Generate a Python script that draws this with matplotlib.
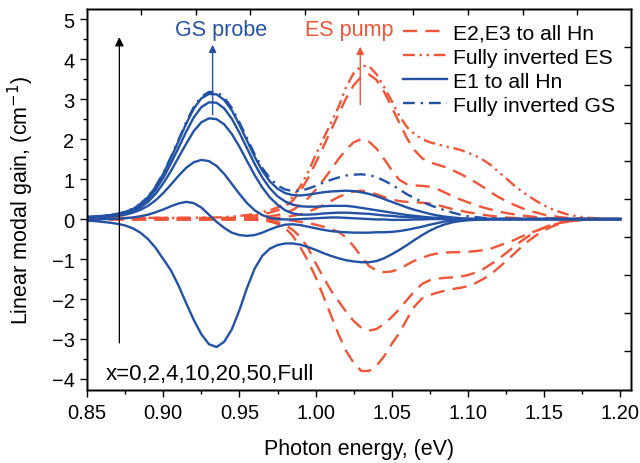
import matplotlib
matplotlib.use("Agg")
import matplotlib.pyplot as plt
import numpy as np
from matplotlib.lines import Line2D

plt.rcParams['font.family'] = ['Liberation Sans', 'DejaVu Sans']

# photon energy grid (eV)
energy = [0.850, 0.855, 0.860, 0.865, 0.870, 0.875, 0.880, 0.885, 0.890, 0.895,
          0.900, 0.905, 0.910, 0.915, 0.920, 0.925, 0.930, 0.935, 0.940, 0.945,
          0.950, 0.955, 0.960, 0.965, 0.970, 0.975, 0.980, 0.985, 0.990, 0.995,
          1.000, 1.005, 1.010, 1.015, 1.020, 1.025, 1.030, 1.035, 1.040, 1.045,
          1.050, 1.055, 1.060, 1.065, 1.070, 1.075, 1.080, 1.085, 1.090, 1.095,
          1.100, 1.105, 1.110, 1.115, 1.120, 1.125, 1.130, 1.135, 1.140, 1.145,
          1.150, 1.155, 1.160, 1.165, 1.170, 1.175, 1.180, 1.185, 1.190, 1.195, 1.200]

# E1 to all Hn (blue solid), x = 0, 2, 4, 10, 20, 50
e1_x0 = [-0.04, -0.05, -0.07, -0.09, -0.12, -0.16, -0.23, -0.34, -0.50, -0.72,
         -1.00, -1.28, -1.66, -2.10, -2.52, -2.88, -3.13, -3.20, -3.07, -2.76,
         -2.28, -1.72, -1.24, -0.92, -0.74, -0.65, -0.61, -0.61, -0.64, -0.70,
         -0.77, -0.85, -0.92, -0.98, -1.03, -1.06, -1.08, -1.08, -1.05, -0.98,
         -0.88, -0.77, -0.65, -0.52, -0.40, -0.29, -0.20, -0.13, -0.08, -0.05,
         -0.03, -0.02, -0.01, 0, 0, 0, 0, 0, 0, 0,
         0, 0, 0, 0, 0, 0, 0, 0, 0, 0, 0]
e1_x2 = [-0.01, -0.01, 0.00, 0.00, 0.01, 0.02, 0.04, 0.07, 0.11, 0.17,
         0.24, 0.32, 0.39, 0.43, 0.40, 0.29, 0.11, -0.07, -0.22, -0.34,
         -0.40, -0.42, -0.40, -0.34, -0.26, -0.19, -0.14, -0.13, -0.15, -0.19,
         -0.23, -0.27, -0.30, -0.32, -0.33, -0.34, -0.34, -0.34, -0.33, -0.33,
         -0.32, -0.30, -0.27, -0.23, -0.19, -0.14, -0.10, -0.06, -0.04, -0.02,
         -0.01, 0, 0, 0, 0, 0, 0, 0, 0, 0,
         0, 0, 0, 0, 0, 0, 0, 0, 0, 0, 0]
e1_x4 = [0.03, 0.04, 0.05, 0.06, 0.08, 0.11, 0.16, 0.23, 0.33, 0.47,
         0.65, 0.86, 1.08, 1.28, 1.42, 1.48, 1.45, 1.33, 1.13, 0.88,
         0.63, 0.40, 0.22, 0.10, 0.03, 0.00, -0.01, -0.01, 0.00, 0.01,
         0.02, 0.03, 0.04, 0.04, 0.03, 0.02, 0.01, 0.00, -0.01, -0.01,
         -0.02, -0.02, -0.02, -0.01, -0.01, 0, 0, 0, 0, 0,
         0, 0, 0, 0, 0, 0, 0, 0, 0, 0,
         0, 0, 0, 0, 0, 0, 0, 0, 0, 0, 0]
e1_x10 = [0.04, 0.05, 0.06, 0.08, 0.10, 0.14, 0.20, 0.29, 0.43, 0.63,
          0.89, 1.20, 1.54, 1.88, 2.20, 2.42, 2.52, 2.50, 2.37, 2.13,
          1.81, 1.45, 1.10, 0.79, 0.54, 0.36, 0.22, 0.14, 0.11, 0.11,
          0.12, 0.14, 0.15, 0.16, 0.16, 0.15, 0.14, 0.13, 0.11, 0.09,
          0.08, 0.06, 0.05, 0.04, 0.03, 0.02, 0.01, 0, 0, 0,
          0, 0, 0, 0, 0, 0, 0, 0, 0, 0,
          0, 0, 0, 0, 0, 0, 0, 0, 0, 0, 0]
e1_x20 = [0.05, 0.06, 0.07, 0.09, 0.12, 0.16, 0.23, 0.34, 0.50, 0.73,
          1.03, 1.39, 1.78, 2.18, 2.54, 2.80, 2.92, 2.91, 2.77, 2.51,
          2.16, 1.77, 1.38, 1.04, 0.77, 0.57, 0.44, 0.36, 0.32, 0.31,
          0.31, 0.32, 0.33, 0.33, 0.33, 0.31, 0.28, 0.25, 0.22, 0.19,
          0.16, 0.13, 0.10, 0.08, 0.06, 0.04, 0.03, 0.02, 0.01, 0,
          0, 0, 0, 0, 0, 0, 0, 0, 0, 0,
          0, 0, 0, 0, 0, 0, 0, 0, 0, 0, 0]
e1_x50 = [0.05, 0.06, 0.08, 0.10, 0.13, 0.18, 0.25, 0.37, 0.55, 0.80,
          1.13, 1.52, 1.95, 2.38, 2.76, 3.02, 3.13, 3.12, 2.98, 2.72,
          2.36, 1.96, 1.56, 1.21, 0.94, 0.76, 0.65, 0.60, 0.59, 0.61,
          0.64, 0.67, 0.69, 0.70, 0.71, 0.70, 0.67, 0.63, 0.57, 0.50,
          0.43, 0.36, 0.29, 0.23, 0.18, 0.13, 0.09, 0.06, 0.04, 0.02,
          0.01, 0, 0, 0, 0, 0, 0, 0, 0, 0,
          0, 0, 0, 0, 0, 0, 0, 0, 0, 0, 0]
# Fully inverted GS (blue dash-dot)
gs_full = [0.05, 0.06, 0.08, 0.10, 0.13, 0.18, 0.26, 0.38, 0.56, 0.82,
           1.15, 1.55, 1.98, 2.42, 2.80, 3.06, 3.18, 3.18, 3.04, 2.78,
           2.42, 2.02, 1.62, 1.28, 1.02, 0.84, 0.74, 0.70, 0.71, 0.76,
           0.83, 0.91, 0.98, 1.04, 1.09, 1.11, 1.12, 1.10, 1.05, 0.96,
           0.86, 0.74, 0.62, 0.52, 0.43, 0.35, 0.28, 0.22, 0.16, 0.11,
           0.07, 0.05, 0.03, 0.02, 0.01, 0, 0, 0, 0, 0,
           0, 0, 0, 0, 0, 0, 0, 0, 0, 0, 0]

# E2,E3 to all Hn (red dashed), x = 0, 2, 4, 10, 20, 50
e23_x0 = [-0.01, -0.01, -0.01, -0.01, -0.01, -0.01, -0.01, -0.01, -0.01, -0.01,
          -0.01, -0.01, -0.01, -0.01, -0.01, -0.01, -0.01, -0.01, -0.01, -0.01,
          -0.01, -0.01, -0.02, -0.03, -0.06, -0.12, -0.22, -0.42, -0.70, -1.05,
          -1.45, -1.92, -2.40, -2.88, -3.30, -3.60, -3.80, -3.80, -3.67, -3.43,
          -3.12, -2.85, -2.50, -2.18, -1.98, -1.90, -1.84, -1.79, -1.75, -1.72,
          -1.68, -1.60, -1.50, -1.38, -1.22, -1.05, -0.88, -0.70, -0.54, -0.40,
          -0.28, -0.19, -0.12, -0.07, -0.04, -0.02, -0.01, 0, 0, 0, 0]
e23_x2 = [-0.01, -0.01, -0.01, -0.01, -0.01, -0.01, -0.01, -0.01, -0.01, -0.01,
          -0.01, -0.01, -0.01, -0.01, -0.01, -0.01, -0.01, -0.01, -0.01, -0.01,
          -0.01, -0.01, -0.01, -0.02, -0.04, -0.08, -0.15, -0.27, -0.45, -0.72,
          -1.10, -1.45, -1.78, -2.05, -2.32, -2.55, -2.72, -2.79, -2.75, -2.62,
          -2.45, -2.25, -2.02, -1.80, -1.62, -1.53, -1.49, -1.47, -1.46, -1.44,
          -1.40, -1.34, -1.25, -1.13, -1.00, -0.85, -0.70, -0.55, -0.42, -0.30,
          -0.21, -0.14, -0.09, -0.05, -0.03, -0.02, -0.01, 0, 0, 0, 0]
e23_x4 = [0.00, 0.00, 0.00, 0.00, 0.00, 0.00, 0.00, 0.00, 0.00, 0.00,
          0.00, 0.00, 0.00, 0.00, 0.00, 0.00, 0.00, 0.00, 0.00, 0.00,
          0.00, 0.00, 0.00, 0.00, 0.00, -0.01, -0.02, -0.04, -0.07, -0.10,
          -0.14, -0.19, -0.25, -0.32, -0.46, -0.68, -0.94, -1.17, -1.29, -1.33,
          -1.31, -1.25, -1.14, -1.04, -0.97, -0.90, -0.86, -0.84, -0.83, -0.83,
          -0.82, -0.80, -0.78, -0.74, -0.67, -0.60, -0.53, -0.44, -0.36, -0.29,
          -0.22, -0.16, -0.10, -0.07, -0.04, -0.02, -0.01, 0, 0, 0, 0]
e23_x10 = [0.01, 0.01, 0.01, 0.01, 0.01, 0.01, 0.01, 0.01, 0.01, 0.01,
           0.01, 0.01, 0.01, 0.01, 0.01, 0.01, 0.01, 0.01, 0.01, 0.01,
           0.01, 0.01, 0.01, 0.01, 0.02, 0.03, 0.05, 0.08, 0.12, 0.18,
           0.26, 0.35, 0.45, 0.55, 0.63, 0.69, 0.71, 0.68, 0.62, 0.55,
           0.49, 0.45, 0.43, 0.42, 0.41, 0.39, 0.35, 0.30, 0.25, 0.21,
           0.17, 0.14, 0.11, 0.08, 0.06, 0.04, 0.03, 0.02, 0.01, 0,
           0, 0, 0, 0, 0, 0, 0, 0, 0, 0, 0]
e23_x20 = [0.02, 0.02, 0.02, 0.02, 0.02, 0.02, 0.02, 0.02, 0.02, 0.02,
           0.02, 0.02, 0.02, 0.02, 0.02, 0.02, 0.02, 0.02, 0.02, 0.02,
           0.02, 0.02, 0.04, 0.05, 0.07, 0.10, 0.15, 0.23, 0.35, 0.52,
           0.73, 0.97, 1.23, 1.50, 1.74, 1.92, 2.00, 1.94, 1.76, 1.50,
           1.22, 0.98, 0.87, 0.84, 0.83, 0.81, 0.75, 0.66, 0.57, 0.49,
           0.42, 0.35, 0.29, 0.24, 0.19, 0.15, 0.12, 0.09, 0.07, 0.05,
           0.03, 0.02, 0.01, 0, 0, 0, 0, 0, 0, 0, 0]
e23_x50 = [0.03, 0.03, 0.03, 0.03, 0.03, 0.03, 0.03, 0.03, 0.03, 0.03,
           0.03, 0.03, 0.03, 0.03, 0.03, 0.03, 0.03, 0.03, 0.03, 0.03,
           0.05, 0.07, 0.09, 0.12, 0.16, 0.22, 0.31, 0.46, 0.70, 1.02,
           1.40, 1.80, 2.22, 2.62, 3.02, 3.35, 3.56, 3.62, 3.48, 3.18,
           2.80, 2.40, 2.02, 1.72, 1.52, 1.42, 1.36, 1.30, 1.22, 1.13,
           1.03, 0.92, 0.80, 0.67, 0.55, 0.45, 0.36, 0.28, 0.21, 0.16,
           0.11, 0.08, 0.05, 0.03, 0.02, 0.01, 0, 0, 0, 0, 0]
# Fully inverted ES (red dash-dot-dot)
es_full = [0.02, 0.02, 0.02, 0.03, 0.03, 0.03, 0.03, 0.03, 0.03, 0.03,
           0.03, 0.03, 0.03, 0.03, 0.03, 0.04, 0.04, 0.04, 0.05, 0.06,
           0.08, 0.10, 0.13, 0.17, 0.22, 0.29, 0.38, 0.55, 0.82, 1.17,
           1.60, 2.00, 2.40, 2.80, 3.30, 3.65, 3.83, 3.83, 3.62, 3.30,
           2.95, 2.58, 2.30, 2.12, 2.00, 1.92, 1.87, 1.82, 1.78, 1.73,
           1.66, 1.58, 1.48, 1.35, 1.18, 1.02, 0.85, 0.70, 0.57, 0.45,
           0.34, 0.25, 0.18, 0.12, 0.08, 0.05, 0.03, 0.02, 0.01, 0, 0]

top_ticks = [0.8855, 0.9216, 0.9571, 0.9931, 1.0279, 1.0640, 1.1002, 1.1363, 1.1717]
right_ticks = [4.31, 3.36, 2.41, 1.46, 0.51, -0.44, -1.39, -2.34, -3.29]

BLUE = '#2352a4'
RED = '#f05537'
LW = 1.7
RED_DASH = (0, (6, 3.5))
RED_DDOT = (0, (5, 2, 1, 2, 1, 2))
BLUE_DDOT = (0, (5, 2.5, 1, 2.5))

fig = plt.figure(figsize=(6.4, 4.64), dpi=100)
ax = fig.add_axes([0.136, 0.157, 0.850, 0.821])

e = np.array(energy)
for s in [e23_x0, e23_x2, e23_x4, e23_x10, e23_x20, e23_x50]:
    ax.plot(e, s, color=RED, lw=LW, linestyle=RED_DASH)
ax.plot(e, es_full, color=RED, lw=LW, linestyle=RED_DDOT)
for s in [e1_x0, e1_x2, e1_x4, e1_x10, e1_x20, e1_x50]:
    ax.plot(e, s, color=BLUE, lw=LW, linestyle='-')
ax.plot(e, gs_full, color=BLUE, lw=LW, linestyle=BLUE_DDOT)

ax.set_xlim(0.85, 1.207)
ax.set_ylim(-4.28, 5.25)
ax.set_xticks([0.85, 0.90, 0.95, 1.00, 1.05, 1.10, 1.15, 1.20])
ax.set_xticks([0.875, 0.925, 0.975, 1.025, 1.075, 1.125, 1.175], minor=True)
ax.set_yticks([-4, -3, -2, -1, 0, 1, 2, 3, 4, 5])
ax.set_yticks([-3.5, -2.5, -1.5, -0.5, 0.5, 1.5, 2.5, 3.5, 4.5], minor=True)
ax.xaxis.set_major_formatter(matplotlib.ticker.FormatStrFormatter('%.2f'))
ax.tick_params(axis='both', which='major', direction='out', length=5, width=1,
               labelsize=14.5, pad=4)
ax.tick_params(axis='both', which='minor', direction='out', length=3, width=1)
ax.tick_params(top=False, right=False)

axt = ax.twiny()
axt.set_xlim(ax.get_xlim())
axt.set_xticks(top_ticks)
axt.tick_params(axis='x', direction='in', length=4, width=1, labeltop=False)
axr = ax.twinx()
axr.set_ylim(ax.get_ylim())
axr.set_yticks(right_ticks)
axr.tick_params(axis='y', direction='in', length=5, width=1, labelright=False)

for a in (ax, axt, axr):
    for sp in a.spines.values():
        sp.set_linewidth(1.0)

ax.set_xlabel('Photon energy, (eV)', fontsize=15.5, labelpad=12)
ax.set_ylabel('Linear modal gain, (cm$^{-1}$)', fontsize=15.5, labelpad=11)

# arrows and annotations
ax.annotate('', xy=(0.8712, 4.62), xytext=(0.8712, -3.17),
            arrowprops=dict(arrowstyle='-|>', color='black', lw=0.9, mutation_scale=13))
ax.annotate('', xy=(0.9324, 4.43), xytext=(0.9324, 2.54),
            arrowprops=dict(arrowstyle='-|>', color=BLUE, lw=1.0, mutation_scale=11))
ax.annotate('', xy=(1.0293, 4.38), xytext=(1.0293, 2.79),
            arrowprops=dict(arrowstyle='-|>', color=RED, lw=1.0, mutation_scale=11))
ax.text(0.938, 4.74, 'GS probe', color=BLUE, fontsize=15.5, ha='center', va='center')
ax.text(1.022, 4.74, 'ES pump', color=RED, fontsize=15.5, ha='center', va='center')
ax.text(0.8625, -3.87, 'x=0,2,4,10,20,50,Full', fontsize=16, ha='left', va='center')

handles = [Line2D([], [], color=RED, lw=LW, linestyle=RED_DASH),
           Line2D([], [], color=RED, lw=LW, linestyle=RED_DDOT),
           Line2D([], [], color=BLUE, lw=LW, linestyle='-'),
           Line2D([], [], color=BLUE, lw=LW, linestyle=BLUE_DDOT)]
labels = ['E2,E3 to all Hn', 'Fully inverted ES', 'E1 to all Hn', 'Fully inverted GS']
leg = axr.legend(handles, labels, loc='upper left', bbox_to_anchor=(0.581, 0.962),
                 frameon=False, fontsize=15.2, handlelength=2.1, handletextpad=0.25,
                 labelspacing=0.24, borderaxespad=0.0, borderpad=0.0)

fig.savefig('out.png', dpi=100)
